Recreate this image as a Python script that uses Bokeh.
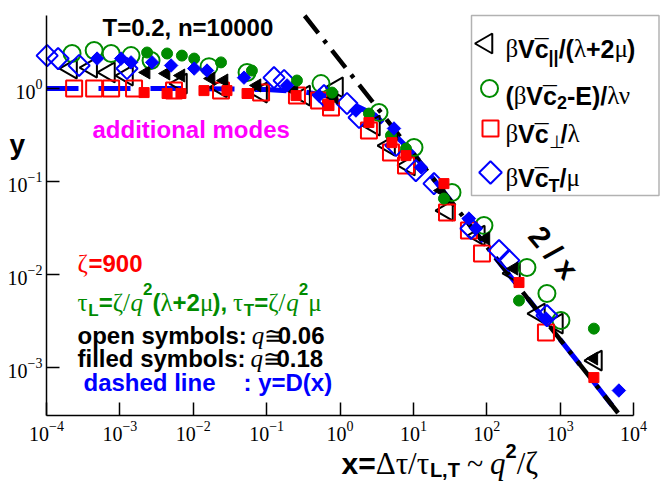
import math
from bokeh.plotting import figure
from bokeh.models import Range1d, Label, BoxAnnotation, FixedTicker, LinearScale
from bokeh.embed import file_html
from bokeh.resources import INLINE

# ---------------- data ----------------
x_ticks = [1e-4, 1e-3, 1e-2, 1e-1, 1, 10, 100, 1000, 1e4]
y_ticks = [1e-3, 1e-2, 1e-1, 1]
x_axis_span = (1e-4, 1e4)
y_axis_span = (3.05e-4, 6.1)

# open symbols: q ~ 0.06
x_tri_o = [2.16e-4, 4.06e-4, 7.1e-4, 1.25e-3, 6.8e-3, 2.39e-2, 8.4e-2, 0.324, 0.91, 2.9, 4.66, 8.7, 28.7, 78, 235, 514, 904, 3076]
y_tri_o = [1.64, 1.68, 1.49, 1.38, 1.13, 1.03, 0.905, 0.84, 1.03, 0.40, 0.244, 0.149, 0.0488, 0.0262, 0.0103, 3.81e-3, 2.97e-3, 1.19e-3]

x_cir_o = [2.23e-4, 4.46e-4, 7.6e-4, 1.42e-3, 2.66e-3, 1.64e-2, 5.41e-2, 0.551, 3.40, 10.2, 33.6, 91.6, 353, 661, 1026]
y_cir_o = [2.38, 2.56, 2.38, 2.26, 2.0, 1.72, 1.49, 1.13, 0.552, 0.232, 0.0762, 0.0337, 0.0119, 6.25e-3, 3.2e-3]

x_sq_o = [2.38e-4, 4.46e-4, 7.6e-4, 1.56e-3, 5.47e-3, 2.39e-2, 8.4e-2, 0.259, 0.518, 0.754, 2.48, 4.95, 7.93, 28.7, 57.2, 86.1, 641]
y_sq_o = [1.0, 1.0, 1.0, 1.0, 0.95, 0.95, 0.905, 0.84, 0.743, 0.625, 0.353, 0.205, 0.149, 0.0464, 0.0297, 0.0168, 2.38e-3]

x_dia_o = [1.02e-4, 1.44e-4, 2.78e-4, 1.25e-3, 0.126, 0.173, 0.605, 1.245, 1.82, 5.79, 10.8, 19.1, 60.9, 147, 200, 661]
y_dia_o = [2.26, 2.10, 1.77, 1.64, 1.31, 1.22, 0.84, 0.69, 0.488, 0.244, 0.131, 0.095, 0.0313, 0.0181, 0.0142, 3.62e-3]

# filled symbols: q ~ 0.18
x_tri_f = [2.28e-3, 4.26e-3, 6.8e-3, 1.75e-2, 2.63e-2, 7.4e-2, 0.236, 0.83, 5.44, 23.8, 97.5, 235, 2884]
y_tri_f = [1.49, 1.45, 1.38, 1.28, 1.22, 1.08, 0.95, 0.80, 0.328, 0.080, 0.0244, 0.0116, 1.25e-3]

x_cir_f = [2.35e-3, 4.4e-3, 7.0e-3, 1.03e-2, 2.39e-2, 6.3e-2, 0.259, 0.778, 2.48, 4.95, 7.93, 26.1, 275, 2884]
y_cir_f = [2.44, 2.38, 2.26, 2.10, 1.91, 1.56, 1.22, 0.905, 0.538, 0.313, 0.226, 0.0656, 5.25e-3, 2.62e-3]

x_sq_f = [2.14e-3, 4.4e-3, 6.8e-3, 1.40e-2, 2.88e-2, 5.41e-2, 0.252, 0.708, 2.48, 5.11, 7.93, 26.1, 275, 2884]
y_sq_f = [0.905, 0.884, 0.884, 0.95, 0.95, 0.884, 0.84, 0.656, 0.431, 0.262, 0.19, 0.095, 8.2e-3, 7.8e-4]

x_dia_f = [4.89e-4, 1.04e-3, 1.42e-3, 2.75e-3, 4.99e-3, 1.03e-2, 1.54e-2, 4.92e-2, 0.19, 0.518, 1.65, 5.44, 12.7, 57.2, 71.3, 641, 6324]
y_dia_f = [2.10, 2.10, 1.91, 1.91, 1.77, 1.64, 1.56, 1.31, 1.08, 0.84, 0.58, 0.372, 0.142, 0.04, 0.0313, 3.37e-3, 5.66e-4]

# dashed line y = D(x) (ends on the x axis)
x_D = [1e-4, 1e-3, 1e-2, 0.1, 0.3, 1, 3, 10, 30, 100, 300, 1000, 3000, 6500]
y_D = [1.0, 1.0, 1.0, 0.975, 0.93, 0.79, 0.52, 0.2, 0.067, 0.02, 6.7e-3, 2.0e-3, 6.7e-4, 3.07e-4]

# asymptote 2/x
x_fit = [0.33, 6560]
y_fit = [2.0 / v for v in x_fit]

# ---------------- styling / layout constants ----------------
GREEN = "#008B00"
RED = "#FF0000"
BLUE = "#0000FF"
MAG = "#FF00FF"

W, H = 660, 482
# page-pixel positions of the axis ends; the frame covers the whole canvas and the
# axes are drawn at fixed locations, so titles and labels outside the axes stay visible
AX_L, AX_R, AX_T, AX_B = 46, 633, 15, 415
lx0, lx1 = math.log10(x_axis_span[0]), math.log10(x_axis_span[1])
ly0, ly1 = math.log10(y_axis_span[0]), math.log10(y_axis_span[1])
dec_x = (AX_R - AX_L) / (lx1 - lx0)
dec_y = (AX_B - AX_T) / (ly1 - ly0)
x_start = 10 ** (lx0 - AX_L / dec_x)
x_end = 10 ** (lx1 + (W - AX_R) / dec_x)
y_start = 10 ** (ly0 - (H - AX_B) / dec_y)
y_end = 10 ** (ly1 + AX_T / dec_y)

p = figure(width=W, height=H, x_axis_type="log", y_axis_type="log",
           x_range=Range1d(x_start, x_end), y_range=Range1d(y_start, y_end),
           output_backend="svg", toolbar_location=None,
           min_border_left=0, min_border_right=0, min_border_top=0, min_border_bottom=0)
p.outline_line_color = None
p.xgrid.visible = False
p.ygrid.visible = False
p.background_fill_color = "white"
p.border_fill_color = "white"

# page-pixel coordinate system for legend / annotations
p.extra_x_ranges = {"px": Range1d(0, W)}
p.extra_y_ranges = {"px": Range1d(H, 0)}
p.extra_x_scales = {"px": LinearScale()}
p.extra_y_scales = {"px": LinearScale()}

p.xaxis.fixed_location = y_axis_span[0]
p.yaxis.fixed_location = x_axis_span[0]
for ax, bnds, ticks in ((p.xaxis[0], x_axis_span, x_ticks), (p.yaxis[0], y_axis_span, y_ticks)):
    ax.bounds = bnds
    ax.ticker = FixedTicker(ticks=ticks)
    ax.major_tick_in = 13
    ax.major_tick_out = 0
    ax.minor_tick_line_color = None
    ax.axis_line_width = 1.5
    ax.major_tick_line_width = 1.5
    ax.axis_line_color = "black"
    ax.major_tick_line_color = "black"
    ax.major_label_text_font = "Liberation Serif"
    ax.major_label_text_font_size = "20px"
    ax.major_label_text_color = "black"
p.xaxis.major_label_standoff = 5
p.yaxis.major_label_standoff = 4

# ---------------- lines ----------------
p.line(x_D, y_D, line_color=BLUE, line_width=5, line_dash="32 20")
p.line(x_fit, y_fit, line_color="black", line_width=4.5, line_dash="22 9 4 9")

TRI_ANGLE = math.pi / 2
DIA_ANGLE = math.pi / 4

def open_m(x, y, marker, color, size, angle=0.0, **kw):
    return p.scatter(x, y, marker=marker, size=size, angle=angle, fill_color=None,
                     line_color=color, line_width=2, **kw)

def fill_m(x, y, marker, color, size, angle=0.0, **kw):
    return p.scatter(x, y, marker=marker, size=size, angle=angle, fill_color=color,
                     line_color=color, line_width=1, **kw)

open_m(x_tri_o, y_tri_o, "triangle", "black", 20, TRI_ANGLE)
open_m(x_cir_o, y_cir_o, "circle", GREEN, 17)
open_m(x_sq_o, y_sq_o, "square", RED, 16)
open_m(x_dia_o, y_dia_o, "square", BLUE, 15, DIA_ANGLE)
fill_m(x_tri_f, y_tri_f, "triangle", "black", 13, TRI_ANGLE)
fill_m(x_cir_f, y_cir_f, "circle", GREEN, 11)
fill_m(x_sq_f, y_sq_f, "square", RED, 10)
fill_m(x_dia_f, y_dia_f, "square", BLUE, 9.5, DIA_ANGLE)

# ---------------- legend ----------------
PX = dict(x_range_name="px", y_range_name="px")
p.add_layout(BoxAnnotation(left=471, right=658.5, top=15, bottom=195,
                           fill_color="white", fill_alpha=1.0,
                           line_color="black", line_width=1.5, level="annotation", **PX))
open_m([486], [43], "triangle", "black", 20, TRI_ANGLE, level="overlay", **PX)
open_m([489], [88], "circle", GREEN, 17, level="overlay", **PX)
open_m([490], [128], "square", RED, 16, level="overlay", **PX)
open_m([490], [172], "square", BLUE, 16, DIA_ANGLE, level="overlay", **PX)

# ---------------- text helpers ----------------
FONTS = {"b": ("Liberation Sans", "bold"), "s": ("Liberation Serif", "normal"),
         "i": ("Liberation Serif", "italic")}
WB = {" ": .278, "(": .333, ")": .333, ",": .278, "-": .333, ".": .278, "/": .278, ":": .333,
      "=": .584, "+": .584, "~": .584, "|": .28, "D": .722, "E": .667, "L": .611, "T": .611,
      "V": .667, "a": .556, "b": .611, "c": .556, "d": .611, "e": .556, "f": .333, "h": .611,
      "i": .278, "l": .278, "m": .889, "n": .611, "o": .611, "p": .611, "s": .556, "t": .333,
      "x": .556, "y": .556, "r": .389, "u": .611}
WS = {" ": .25, "β": .5, "ζ": .44, "λ": .48, "μ": .5, "ν": .47, "τ": .43, "Δ": .61,
      "/": .278, "~": .541, "≅": .56, "⊥": .66}
WI = {"q": .5}
WT = {"b": WB, "s": WS, "i": WI}

def tw(txt, kind, size):
    return sum(WT[kind].get(ch, .556) for ch in txt) * size

def run(px, py, parts, color):
    x = px
    for part in parts:
        if part[0] == "gap":
            x += part[1]
            continue
        txt, kind, size = part[:3]
        rise = part[3] if len(part) > 3 else 0
        adv = part[4] if len(part) > 4 else True
        font, style = FONTS[kind]
        p.add_layout(Label(x=x, y=py - rise, text=txt, text_font=font, text_font_style=style,
                           text_font_size=f"{size}px", text_color=color, text_align="left",
                           text_baseline="alphabetic", level="overlay", **PX))
        if adv:
            x += tw(txt, kind, size)

F = 24
S = 17
LF = 25
LS = 18
run(505, 48, [("β", "s", LF), ("V", "b", LF), ("¯", "b", LF, 0, False), ("c", "b", LF),
              ("||", "b", LS, -8), ("/(", "b", LF), ("λ", "s", LF), ("+2", "b", LF),
              ("μ", "s", LF), (")", "b", LF)], "black")
run(505, 95, [("(", "b", LF), ("β", "s", LF), ("V", "b", LF), ("¯", "b", LF, 0, False),
              ("c", "b", LF), ("2", "b", LS, -7), ("-E)/", "b", LF), ("λν", "s", LF)], "black")
run(505, 133, [("β", "s", LF), ("V", "b", LF), ("¯", "b", LF, 0, False), ("c", "b", LF),
               ("⊥", "s", LS, -8), ("/", "b", LF), ("λ", "s", LF)], "black")
run(505, 177, [("β", "s", LF), ("V", "b", LF), ("¯", "b", LF, 0, False), ("c", "b", LF),
               ("T", "b", LS, -8), ("/", "b", LF), ("μ", "s", LF)], "black")

# annotations inside the plot
run(102, 27, [("T=0.2, n=10000", "b", F)], "black")
run(92, 129, [("additional modes", "b", F)], MAG)
run(77, 263, [("ζ", "s", F + 1), ("=900", "b", F)], RED)
run(77, 302, [("τ", "s", F + 1), ("L", "b", S, -8), ("=", "b", F), ("ζ/", "s", F + 1),
              ("q", "i", F + 1), ("2", "b", S, 14), ("(", "b", F), ("λ", "s", F + 1),
              ("+2", "b", F), ("μ", "s", F + 1), ("),", "b", F), ("gap", 6), ("τ", "s", F + 1),
              ("T", "b", S, -8), ("=", "b", F), ("ζ/", "s", F + 1), ("q", "i", F + 1),
              ("2", "b", S, 14), ("μ", "s", F + 1)], GREEN)
run(77, 335, [("open symbols:", "b", F), ("gap", 5), ("q", "i", F + 1), ("≅", "s", F),
              ("0.06", "b", F)], "black")
run(77, 358, [("filled symbols:", "b", F), ("gap", 5), ("q", "i", F + 1), ("≅", "s", F),
              ("0.18", "b", F)], "black")
run(83, 382, [("dashed line", "b", F)], BLUE)
run(243, 382, [(": y=D(x)", "b", F)], BLUE)

# 2/x label along the asymptote
p.add_layout(Label(x=553, y=252, text="2 / x", angle=-0.87, text_align="center",
                   text_baseline="middle", text_font="Liberation Sans", text_font_style="bold",
                   text_font_size="30px", text_color="black", level="overlay", **PX))

# axis titles
run(9, 144, [("y", "b", 28)], "black")
XF = 30
XS = 20
run(341, 463, [("x=", "b", XF), ("Δτ/τ", "s", XF + 1), ("L,T", "b", XS, -6), ("gap", 7),
               ("~", "s", XF), ("gap", 7), ("q", "i", XF + 1), ("2", "b", XS, 13),
               ("/ζ", "s", XF + 1)], "black")

open("out.html", "w").write(file_html(p, INLINE))
